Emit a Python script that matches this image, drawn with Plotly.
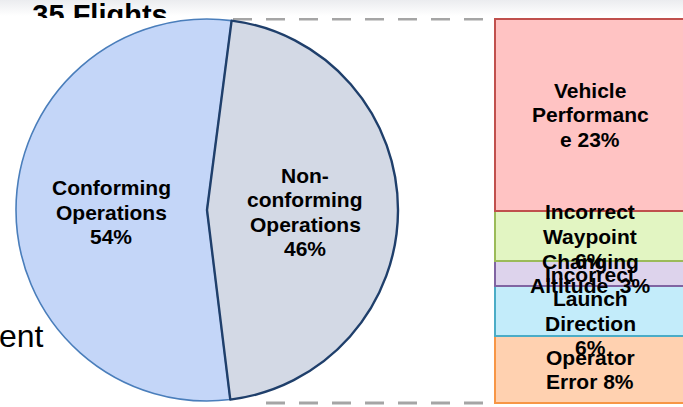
import plotly.graph_objects as go

# Pie: share of the 35 flights
pie_labels = ["Conforming Operations", "Non-conforming Operations"]
pie_text = ["Conforming<br>Operations", "Non-<br>conforming<br>Operations"]
pie_values = [54, 46]
pie_fill = ["#c4d6f8", "#d3d9e5"]
pie_edge = ["#4a7ebb", "#1f3f6b"]

# Breakdown of the non-conforming share, stacked bottom to top
cause_names = ["Operator Error", "Incorrect Launch Direction", "Changing Altitude",
               "Incorrect Waypoint", "Vehicle Performance"]
cause_fmt = ["Operator<br>Error {}%", "Incorrect<br>Launch<br>Direction<br>{}%",
             "Changing<br>Altitude&nbsp; {}%", "Incorrect<br>Waypoint<br>{}%",
             "Vehicle<br>Performanc<br>e {}%"]
cause_values = [8, 6, 3, 6, 23]
cause_fill = ["#ffd1b0", "#c3ecfa", "#ddd3ec", "#e2f5c2", "#ffc3c3"]
cause_edge = ["#f79646", "#4bacc6", "#8064a2", "#9bbb59", "#c0504d"]

title_text = "35 Flights"
side_text = "ent"

W, H = 683, 407
FONT = "Liberation Sans, Arial, sans-serif"
LABEL_FONT = dict(family=FONT, size=21, color="#000000", weight="bold")
LINE_PITCH = 24.5  # px between label lines

fig = go.Figure()

# header strip: soft grey band plus the clipped heading
fig.add_trace(go.Scatter(
    x=[0, W, W, 0], y=[0, 0, 18, 18], mode="lines", fill="toself",
    line=dict(width=0), hoverinfo="skip",
    fillgradient=dict(type="vertical", colorscale=[[0, "#ebecef"], [1, "#ffffff"]],
                      start=0, stop=16),
    xaxis="x3", yaxis="y3"))
fig.add_trace(go.Scatter(
    x=[100], y=[17.6], mode="text", text=[title_text], textposition="middle center",
    textfont=dict(family=FONT, size=29, color="#000000", weight="bold"),
    cliponaxis=True, hoverinfo="skip", xaxis="x3", yaxis="y3"))

# main pie
fig.add_trace(go.Pie(
    labels=pie_labels, values=pie_values, sort=False, direction="clockwise",
    rotation=173, textinfo="none", hoverinfo="skip",
    marker=dict(colors=pie_fill, line=dict(color=pie_edge, width=[1.6, 2.4])),
    domain=dict(x=[16 / W, 398 / W], y=[(H - 401) / H, (H - 19) / H])))

# stacked bar of causes
for name, v, fc, ec in zip(cause_names, cause_values, cause_fill, cause_edge):
    fig.add_trace(go.Bar(
        x=[0.4825], y=[v], width=0.965, name=name,
        marker=dict(color=fc, line=dict(color=ec, width=2)),
        hoverinfo="skip", xaxis="x2", yaxis="y2"))

annotations = []


def add_label(text, **pos):
    """Place a multi-line label one line at a time with a fixed line pitch."""
    lines = text.split("<br>")
    n = len(lines)
    for i, line in enumerate(lines):
        annotations.append(dict(
            text=line, yshift=((n - 1) / 2 - i) * LINE_PITCH, showarrow=False,
            xanchor="center", yanchor="middle", font=LABEL_FONT, **pos))


base = 0
for fmt, v in zip(cause_fmt, cause_values):
    add_label(fmt.format(v), x=0.4825, y=base + v / 2, xref="x2", yref="y2")
    base += v

pie_pos = [(111, 212), (305, 212)]
for t, v, (px, py) in zip(pie_text, pie_values, pie_pos):
    add_label(f"{t}<br>{v}%", x=px / W, y=(H - py) / H, xref="paper", yref="paper")

annotations.append(dict(
    x=46 / W, y=(H - 336) / H, xref="paper", yref="paper", text=side_text,
    xanchor="right", yanchor="middle", showarrow=False,
    font=dict(family=FONT, size=32, color="#000000")))

total = sum(cause_values)
dash_style = dict(color="#a5a5a5", width=3, dash="19px,14px")
shapes = [
    dict(type="line", xref="paper", yref="y2", x0=233 / W, x1=488 / W, y0=total, y1=total,
         line=dash_style, layer="below"),
    dict(type="line", xref="paper", yref="y2", x0=266 / W, x1=488 / W, y0=0, y1=0,
         line=dash_style, layer="below"),
]

fig.update_layout(
    width=W, height=H, margin=dict(l=0, r=0, t=0, b=0),
    paper_bgcolor="#ffffff", plot_bgcolor="rgba(0,0,0,0)",
    showlegend=False, barmode="stack", bargap=0,
    annotations=annotations, shapes=shapes,
    xaxis=dict(visible=False), yaxis=dict(visible=False),
    xaxis2=dict(domain=[485 / W, 1], range=[-0.05, 0.95], visible=False, anchor="y2"),
    yaxis2=dict(domain=[0, 1], range=[-0.479, 48.27], visible=False, anchor="x2"),
    xaxis3=dict(domain=[0, 1], range=[0, W], visible=False, anchor="y3"),
    yaxis3=dict(domain=[(H - 18) / H, 1], range=[18, 0], visible=False, anchor="x3"),
)

fig.write_html("out.html")
